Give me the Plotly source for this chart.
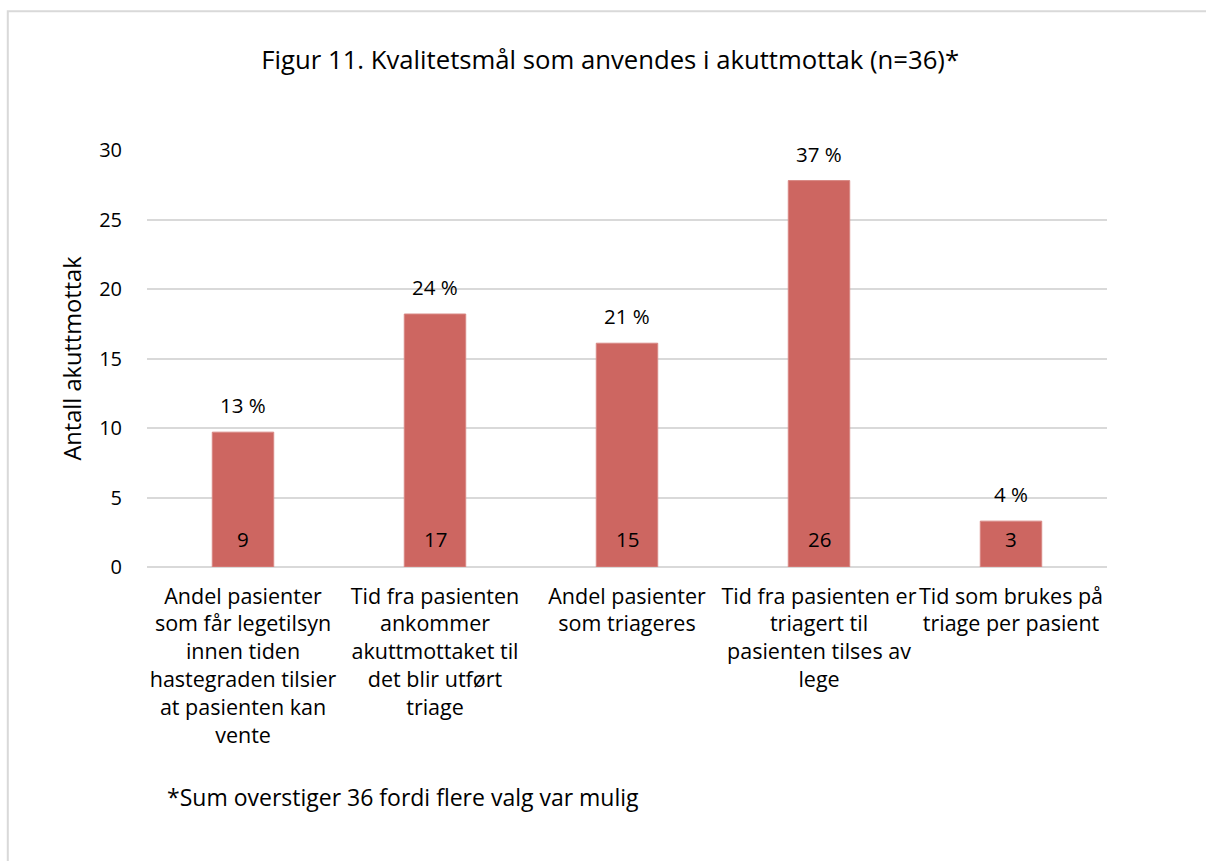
import plotly.graph_objects as go

categories = [
    "Andel pasienter<br>som får legetilsyn<br>innen tiden<br>hastegraden tilsier<br>at pasienten kan<br>vente",
    "Tid fra pasienten<br>ankommer<br>akuttmottaket til<br>det blir utført<br>triage",
    "Andel pasienter<br>som triageres",
    "Tid fra pasienten er<br>triagert til<br>pasienten tilses av<br>lege",
    "Tid som brukes på<br>triage per pasient",
]
counts = [9, 17, 15, 26, 3]
# bar heights as drawn in the reference picture (read against the y axis)
bar_heights = [9.7, 18.2, 16.1, 27.8, 3.3]
percent_labels = ["13 %", "24 %", "21 %", "37 %", "4 %"]
y_ticks = [0, 5, 10, 15, 20, 25, 30]

FONT = "'Open Sans', Lato, sans-serif"
BAR_COLOR = "#CD6661"

fig = go.Figure()
fig.add_trace(go.Bar(
    x=categories,
    y=bar_heights,
    marker=dict(color=BAR_COLOR, line=dict(color="#D88884", width=1)),
    hoverinfo="skip",
))

for cat, h, p, c in zip(categories, bar_heights, percent_labels, counts):
    fig.add_annotation(
        x=cat, y=h, text=p, showarrow=False,
        yanchor="middle", yshift=27,
        font=dict(family=FONT, size=20.5, color="#000000"),
    )
    fig.add_annotation(
        x=cat, y=0, text=str(c), showarrow=False,
        yanchor="middle", yshift=28,
        font=dict(family=FONT, size=20.5, color="#000000"),
    )

fig.add_annotation(
    xref="paper", yref="paper", x=0.019, y=-0.552,
    text="*Sum overstiger 36 fordi flere valg var mulig",
    showarrow=False, xanchor="left", yanchor="middle",
    font=dict(family=FONT, size=23, color="#000000"),
)

fig.add_shape(
    type="rect", xref="paper", yref="paper",
    x0=-0.145, x1=1.2, y0=-0.75, y1=1.333,
    line=dict(color="#D9D9D9", width=2), fillcolor="rgba(0,0,0,0)", layer="below",
)

fig.update_layout(
    width=1206, height=861,
    margin=dict(l=147, r=99, t=150, b=294),
    paper_bgcolor="white", plot_bgcolor="white",
    bargap=0.68,
    showlegend=False,
    title=dict(
        text="Figur 11. Kvalitetsmål som anvendes i akuttmottak (n=36)*",
        x=0.506, xanchor="center", y=0.93, yanchor="middle",
        font=dict(family=FONT, size=25.7, color="#000000"),
    ),
    font=dict(family=FONT, color="#000000"),
)
fig.update_xaxes(
    showgrid=False, showline=False, zeroline=False, ticks="",
    tickfont=dict(family=FONT, size=21.5, color="#000000"),
    tickangle=0, ticklabelstandoff=14,
)
fig.update_yaxes(
    range=[0, 30], tickvals=y_ticks,
    showgrid=True, gridcolor="#D9D9D9", gridwidth=1.5,
    zeroline=True, zerolinecolor="#D9D9D9", zerolinewidth=1.5,
    showline=False, ticks="",
    tickfont=dict(family=FONT, size=20, color="#000000"),
    ticklabelstandoff=24,
    title=dict(text="Antall akuttmottak", font=dict(family=FONT, size=23.6, color="#000000"), standoff=10),
)

fig.write_html("out.html")
